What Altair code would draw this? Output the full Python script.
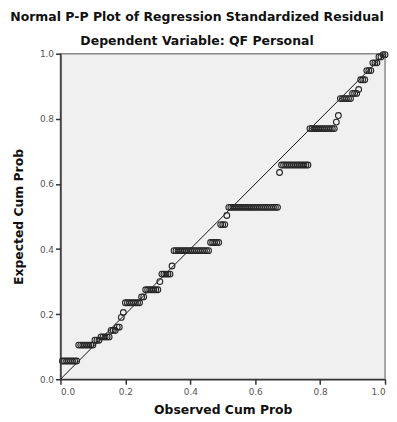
import altair as alt
import pandas as pd

# Expected cumulative probability levels (ties produce horizontal runs)
expected_levels = [0.056, 0.105, 0.12, 0.13, 0.15, 0.16, 0.19, 0.205, 0.235, 0.253,
                   0.275, 0.30, 0.323, 0.348, 0.395, 0.42, 0.475, 0.503, 0.528, 0.635,
                   0.658, 0.77, 0.79, 0.81, 0.862, 0.878, 0.89, 0.92, 0.948, 0.972,
                   0.99, 0.997]
# Number of cases sharing each expected level
level_counts = [8, 8, 3, 5, 3, 2, 1, 1, 8, 2,
                7, 1, 5, 1, 18, 5, 3, 1, 25, 1,
                14, 13, 1, 1, 6, 3, 1, 3, 3, 3,
                2, 2]

ref_observed = [0.0, 1.0]
ref_expected = [0.0, 1.0]
tick_values = [0.0, 0.2, 0.4, 0.6, 0.8, 1.0]

n_total = sum(level_counts)
rows = []
rank = 0
for lvl, cnt in zip(expected_levels, level_counts):
    for _ in range(cnt):
        rank += 1
        rows.append({"observed": rank / n_total, "expected": lvl})
df = pd.DataFrame(rows)
line_df = pd.DataFrame({"observed": ref_observed, "expected": ref_expected})

FONT = "DejaVu Sans"
sx = alt.Scale(domain=[0, 1], nice=False, zero=False)
sy = alt.Scale(domain=[0, 1], nice=False, zero=False)

x_axis = alt.Axis(title="Observed Cum Prob", values=tick_values, format=".1f", titlePadding=8, labelPadding=3)
y_axis = alt.Axis(title="Expected Cum Prob", values=tick_values, format=".1f", titlePadding=14)

line = alt.Chart(line_df).mark_line(color="#111111", strokeWidth=1).encode(
    x=alt.X("observed:Q", scale=sx, axis=x_axis),
    y=alt.Y("expected:Q", scale=sy, axis=y_axis),
)
points = alt.Chart(df).mark_point(
    shape="circle", filled=False, size=34, color="#262626", strokeWidth=1.1, opacity=1
).encode(
    x=alt.X("observed:Q", scale=sx, axis=x_axis),
    y=alt.Y("expected:Q", scale=sy, axis=y_axis),
)

chart = alt.layer(line, points).properties(
    width=328,
    height=329,
    autosize="none",
    padding={"left": 53, "top": 44, "right": 4, "bottom": 40},
    title=alt.TitleParams(
        text="Normal P-P Plot of Regression Standardized Residual",
        subtitle="Dependent Variable: QF Personal",
        font=FONT, fontSize=12.6, fontWeight="bold", color="#111111",
        subtitleFont=FONT, subtitleFontSize=12.6, subtitleFontWeight="bold",
        subtitleColor="#111111", subtitlePadding=12,
        anchor="middle", dx=-26, offset=2,
    ),
).configure_view(
    fill="#f0f0f0", stroke="#8a8a8a", strokeWidth=1.5
).configure_axis(
    grid=False,
    domainColor="#333333", domainWidth=1.5,
    tickColor="#333333", tickWidth=1.5, tickSize=5,
    labelColor="#555555", labelFont=FONT, labelFontSize=9,
    titleFont=FONT, titleFontSize=12.5, titleFontWeight="bold", titleColor="#111111",
)

chart.save("out.html", embed_options={"renderer": "svg", "actions": False})
